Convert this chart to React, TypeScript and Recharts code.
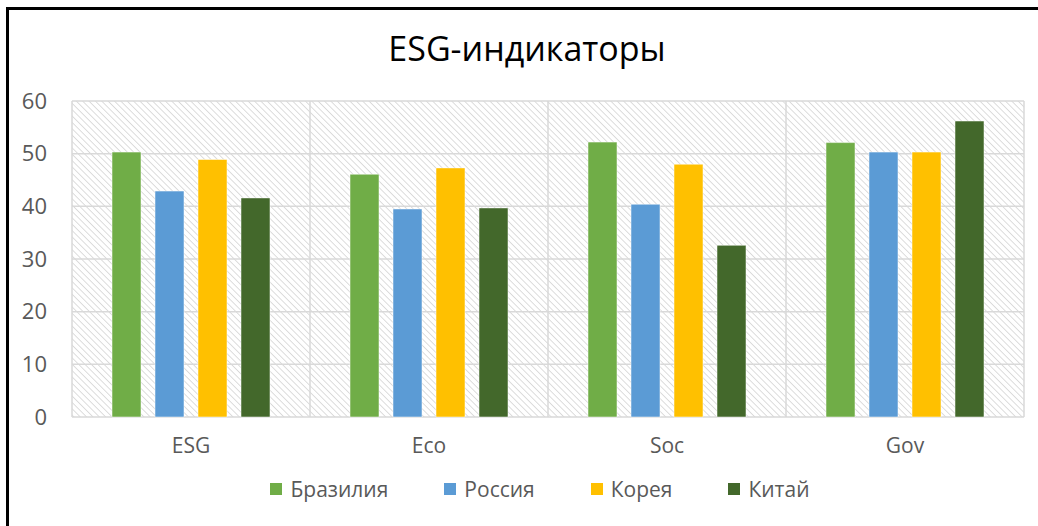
import { Bar, BarChart, CartesianGrid, Legend, XAxis, YAxis } from 'recharts'

const categories = ['ESG', 'Eco', 'Soc', 'Gov']
const seriesNames = ['Бразилия', 'Россия', 'Корея', 'Китай']
const seriesColors = ['#70AD47', '#5B9BD5', '#FFC000', '#43682B']
const brazil = [50.3, 46.1, 52.2, 52.1]
const russia = [42.9, 39.5, 40.4, 50.3]
const korea = [48.9, 47.3, 48.0, 50.3]
const china = [41.6, 39.7, 32.6, 56.2]
const yTicks = [0, 10, 20, 30, 40, 50, 60]

const seriesValues = [brazil, russia, korea, china]
const keys = ['s0', 's1', 's2', 's3']

const data = categories.map((name, i) => {
  const row: Record<string, string | number> = { name }
  seriesValues.forEach((values, s) => {
    row[keys[s]] = values[i]
  })
  return row
})

const FONT = '"Open Sans", "Noto Sans", sans-serif'
const TEXT = '#595959'
const GRID = '#d9d9d9'

function LegendContent() {
  return (
    <div
      style={{
        display: 'flex',
        justifyContent: 'center',
        alignItems: 'center',
        paddingLeft: 56,
        paddingTop: 8,
        fontFamily: FONT,
        fontSize: 21,
        color: TEXT,
      }}
    >
      {seriesNames.map((name, i) => (
        <div
          key={name}
          style={{ display: 'flex', alignItems: 'center', marginRight: i < seriesNames.length - 1 ? 56 : 0 }}
        >
          <span
            style={{ width: 12, height: 12, background: seriesColors[i], marginRight: 8, display: 'inline-block' }}
          />
          <span>{name}</span>
        </div>
      ))}
    </div>
  )
}

export default function App() {
  return (
    <div style={{ position: 'absolute', left: 0, top: 0, width: 1038, height: 526, background: '#fff', overflow: 'hidden' }}>
      <div
        style={{
          position: 'absolute',
          left: 6,
          top: 7,
          width: 1100,
          height: 600,
          borderLeft: '3px solid #000',
          borderTop: '3px solid #000',
        }}
      />
      <div
        style={{
          position: 'absolute',
          left: 0,
          top: 24,
          width: 1054,
          textAlign: 'center',
          fontFamily: FONT,
          fontSize: 34,
          lineHeight: '48px',
          color: '#000',
        }}
      >
        ESG-индикаторы
      </div>
      <div style={{ position: 'absolute', left: 0, top: 0 }}>
        <BarChart
          width={1038}
          height={526}
          data={data}
          margin={{ top: 101, right: 14, bottom: 19, left: 0 }}
          barSize={29}
          barGap={14}
        >
          <defs>
            <pattern id="hatch" width="4.5" height="4.5" patternUnits="userSpaceOnUse" patternTransform="rotate(-45)">
              <rect width="4.5" height="4.5" fill="#ffffff" />
              <line x1="0" y1="0" x2="0" y2="4.5" stroke="#d9d9d9" strokeWidth="1.8" />
            </pattern>
          </defs>
          <CartesianGrid
            fill="url(#hatch)"
            stroke={GRID}
            strokeWidth={1.5}
            verticalCoordinatesGenerator={({ offset }: any) =>
              categories.map((_, i) => offset.left + (offset.width * i) / categories.length).concat(offset.left + offset.width)
            }
          />
          <XAxis
            dataKey="name"
            axisLine={false}
            tickLine={false}
            tickSize={0}
            tickMargin={21}
            height={50}
            tick={{ fill: TEXT, fontSize: 21, fontFamily: FONT }}
          />
          <YAxis
            domain={[0, 60]}
            ticks={yTicks}
            axisLine={false}
            tickLine={false}
            tickSize={0}
            tickMargin={25}
            width={72}
            tick={{ fill: TEXT, fontSize: 22, fontFamily: FONT }}
          />
          <Legend verticalAlign="bottom" height={40} content={<LegendContent />} />
          {keys.map((k, i) => (
            <Bar
              key={k}
              dataKey={k}
              name={seriesNames[i]}
              fill={seriesColors[i]}
              stroke="#ffffff"
              strokeOpacity={0.5}
              strokeWidth={1}
              isAnimationActive={false}
            />
          ))}
        </BarChart>
      </div>
    </div>
  )
}
